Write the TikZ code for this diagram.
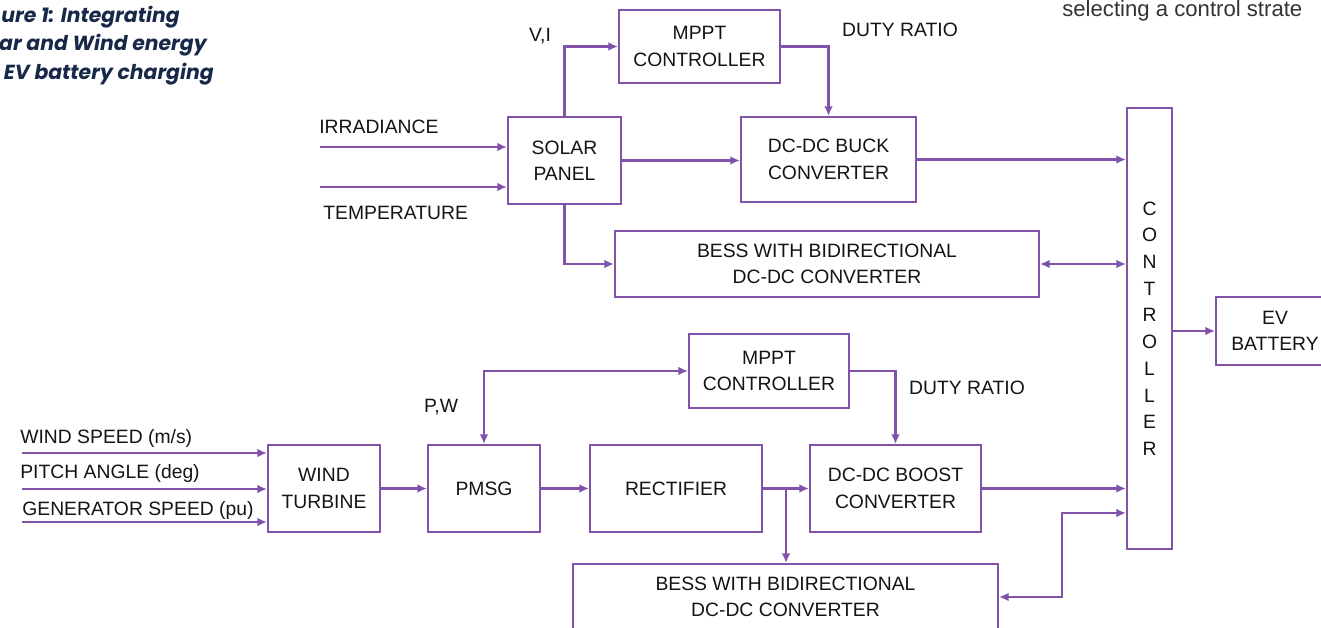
\documentclass[tikz,border=0pt]{standalone}
\usepackage{fontspec}
\setmainfont{Liberation Sans}
\newfontfamily\capfont{Poppins}
\usetikzlibrary{arrows.meta,calc}
\definecolor{pur}{RGB}{128,82,170}
\definecolor{navy}{RGB}{24,40,72}
\definecolor{ink}{RGB}{20,20,20}
\begin{document}
\begin{tikzpicture}[x=0.02cm,y=-0.02cm,
 box/.style={draw=pur,line width=1.2pt,align=center,inner sep=0pt,font=\fontsize{11}{15}\selectfont,text=ink},
 conn/.style={draw=pur,line width=1.2pt,-{Latex[length=5.5pt,width=5pt]}},
 conn2/.style={draw=pur,line width=1.2pt,{Latex[length=5.5pt,width=5pt]}-{Latex[length=5.5pt,width=5pt]}},
 lbl/.style={inner sep=0pt,font=\fontsize{11}{13}\selectfont,text=ink},
 captext/.style={inner sep=0pt,font=\capfont\bfseries\itshape\fontsize{11.6}{14}\selectfont,text=navy}]
\useasboundingbox (0,0) rectangle (1321,628);
\clip (0,0) rectangle (1321,628);
\fill[white] (0,0) rectangle (1321,628);

% caption fragments
\node[captext,anchor=east] (c1) at (180,17) {ure 1: Integrating};
\node[captext,anchor=east] (c2) at (207,45) {ar and Wind energy};
\node[captext,anchor=east] (c3) at (214,74) {EV battery charging};
\node[lbl,anchor=west,font=\fontsize{12.6}{15}\selectfont,text=black!80] (tr) at (1062,11) {selecting a control strate};

% boxes
\node[box,minimum width=161*0.02cm,minimum height=73*0.02cm] (mppt1) at (699.5,46.5) {MPPT\\CONTROLLER};
\node[box,minimum width=113*0.02cm,minimum height=87*0.02cm] (solar) at (564.5,160.5) {SOLAR\\PANEL};
\node[box,minimum width=175*0.02cm,minimum height=85*0.02cm] (buck) at (828.5,159.5) {DC-DC BUCK\\CONVERTER};
\node[box,minimum width=424*0.02cm,minimum height=66*0.02cm] (bess1) at (827,264) {BESS WITH BIDIRECTIONAL\\DC-DC CONVERTER};
\node[box,minimum width=45*0.02cm,minimum height=441*0.02cm,font=\fontsize{11}{15.2}\selectfont] (ctrl) at (1149.5,328.5) {C\\O\\N\\T\\R\\O\\L\\L\\E\\R};
\node[box,minimum width=118*0.02cm,minimum height=68*0.02cm] (ev) at (1275,331) {EV\\BATTERY};
\node[box,minimum width=160*0.02cm,minimum height=74*0.02cm] (mppt2) at (769,371) {MPPT\\CONTROLLER};
\node[box,minimum width=112*0.02cm,minimum height=87*0.02cm] (wt) at (324,488.5) {WIND\\TURBINE};
\node[box,minimum width=112*0.02cm,minimum height=87*0.02cm] (pmsg) at (484,488.5) {PMSG};
\node[box,minimum width=172*0.02cm,minimum height=87*0.02cm] (rect) at (676,488.5) {RECTIFIER};
\node[box,minimum width=171*0.02cm,minimum height=87*0.02cm] (boost) at (895.5,488.5) {DC-DC BOOST\\CONVERTER};
\node[box,minimum width=425*0.02cm,minimum height=66*0.02cm] (bess2) at (785.5,597) {BESS WITH BIDIRECTIONAL\\DC-DC CONVERTER};

% labels
\node[lbl,anchor=west] (lirr) at (319,127) {IRRADIANCE};
\node[lbl,anchor=west] (ltemp) at (323,213) {TEMPERATURE};
\node[lbl] (lvi) at (540,36) {V,I};
\node[lbl] (ld1) at (900,30) {DUTY RATIO};
\node[lbl] (lpw) at (441,407) {P,W};
\node[lbl] (ld2) at (967,388) {DUTY RATIO};
\node[lbl,anchor=west] (lws) at (20,438) {WIND SPEED (m/s)};
\node[lbl,anchor=west] (lpa) at (20,473) {PITCH ANGLE (deg)};
\node[lbl,anchor=west] (lgs) at (22,510) {GENERATOR SPEED (pu)};

% free ends
\coordinate (irr) at (320,147);
\coordinate (tmp) at (320,187);
\coordinate (ws) at (22,453);
\coordinate (pa) at (22,489);
\coordinate (gs) at (22,522);
\coordinate (br) at (786,488.5);
\coordinate (bj) at (1062,513);

% connectors
\draw[conn] (irr) -- (irr -| solar.west);
\draw[conn] (tmp) -- (tmp -| solar.west);
\draw[conn] (solar.north) |- (mppt1.west);
\draw[conn] (mppt1.east) -| (buck.north);
\draw[conn] (solar.east) -- (solar.east -| buck.west);
\draw[conn] (buck.east) -- (buck.east -| ctrl.west);
\draw[conn] (solar.south) |- (bess1.west);
\draw[conn2] (bess1.east) -- (bess1.east -| ctrl.west);
\draw[conn] (ev.west -| ctrl.east) -- (ev.west);

\draw[conn] (ws) -- (ws -| wt.west);
\draw[conn] (pa) -- (pa -| wt.west);
\draw[conn] (gs) -- (gs -| wt.west);
\draw[conn] (wt.east) -- (pmsg.west);
\draw[conn] (pmsg.east) -- (rect.west);
\draw[conn] (rect.east) -- (boost.west);
\draw[conn] (br) -- (br |- bess2.north);
\draw[conn] (boost.east) -- (boost.east -| ctrl.west);
\draw[conn2] (bess2.east) -| (bj) -- (bj -| ctrl.west);
\draw[conn2] (pmsg.north) |- (mppt2.west);
\draw[conn] (mppt2.east) -| (boost.north);
\end{tikzpicture}
\end{document}
